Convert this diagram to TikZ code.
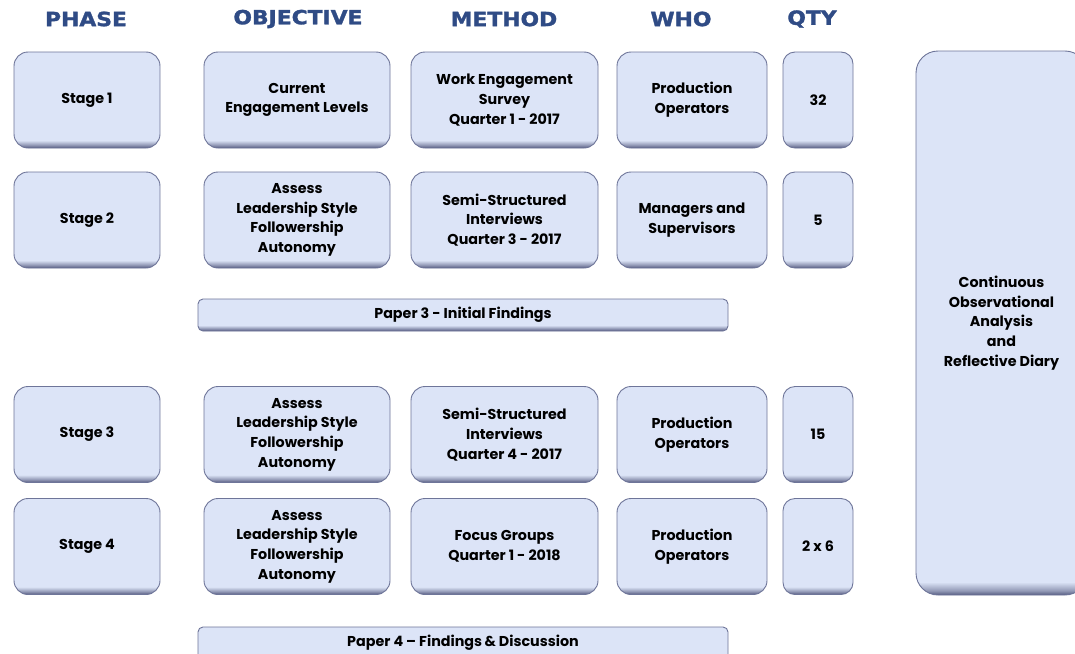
\documentclass[tikz,border=0pt]{standalone}
\usepackage{fontspec}
\setmainfont{Poppins}
\newfontfamily\headfont{DejaVu Sans}[FakeBold=1.6, FakeStretch=1.12]
\definecolor{face}{HTML}{DCE4F7}
\definecolor{edge}{HTML}{555B80}
\definecolor{bord}{HTML}{6E7599}
\definecolor{headblue}{HTML}{2F4B85}
\colorlet{midedge}{edge!55!face}
% bevelled fills: dark band along the lower edge, flat face above
\pgfdeclareverticalshading{cardshade}{100bp}{color(0bp)=(edge); color(25bp)=(edge); color(26.6bp)=(midedge); color(29bp)=(face); color(100bp)=(face)}
\pgfdeclareverticalshading{barshade}{100bp}{color(0bp)=(edge); color(25bp)=(edge); color(29bp)=(midedge); color(34bp)=(face); color(100bp)=(face)}
\pgfdeclareverticalshading{tallshade}{100bp}{color(0bp)=(edge); color(25bp)=(edge); color(25.4bp)=(midedge); color(26.2bp)=(face); color(100bp)=(face)}
\tikzset{
  box/.style={draw=bord, line width=0.9pt, inner sep=0pt, outer sep=0pt,
    align=center, font=\fontsize{14.3}{19.7}\selectfont\bfseries, text=black},
  card/.style={box, shade, shading=cardshade, rounded corners=14pt, minimum height=96pt},
  bar/.style={box, shade, shading=barshade, rounded corners=5pt, minimum height=32pt},
  tall/.style={box, shade, shading=tallshade, rounded corners=22pt},
  head/.style={font=\headfont\fontsize{19.5}{22}\selectfont\bfseries, text=headblue, inner sep=0pt}
}
\begin{document}
\begin{tikzpicture}[x=1pt,y=-1pt]
\clip (0,0) rectangle (1075,653);
\fill[white] (0,0) rectangle (1075,653);

% column headings
\node[head] (hphase) at (86,19) {PHASE};
\node[head] (hobj)   at (298,19) {OBJECTIVE};
\node[head] (hmeth)  at (504,19) {METHOD};
\node[head] (hwho)   at (681,19) {WHO};
\node[head] (hqty)   at (812,19) {QTY};

% stage 1
\node[card, minimum width=146pt] (s1)  at (87,100)    {Stage 1};
\node[card, minimum width=186pt] (o1)  at (297,100)   {Current\\Engagement Levels};
\node[card, minimum width=187pt] (m1)  at (504.5,100) {Work Engagement\\Survey\\Quarter 1 - 2017};
\node[card, minimum width=150pt] (w1)  at (692,100)   {Production\\Operators};
\node[card, minimum width=70pt, rounded corners=12pt] (q1) at (818,100) {32};

% stage 2
\node[card, minimum width=146pt] (s2)  at (87,220)    {Stage 2};
\node[card, minimum width=186pt] (o2)  at (297,220)   {Assess\\Leadership Style\\Followership\\Autonomy};
\node[card, minimum width=187pt] (m2)  at (504.5,220) {Semi-Structured\\Interviews\\Quarter 3 - 2017};
\node[card, minimum width=150pt] (w2)  at (692,220)   {Managers and\\Supervisors};
\node[card, minimum width=70pt, rounded corners=12pt] (q2) at (818,220) {5};

% first paper
\node[bar, minimum width=530pt] (p3) at (463,315) {Paper 3 - Initial Findings};

% stage 3
\node[card, minimum width=146pt] (s3)  at (87,434.5)    {Stage 3};
\node[card, minimum width=186pt] (o3)  at (297,434.5)   {Assess\\Leadership Style\\Followership\\Autonomy};
\node[card, minimum width=187pt] (m3)  at (504.5,434.5) {Semi-Structured\\Interviews\\Quarter 4 - 2017};
\node[card, minimum width=150pt] (w3)  at (692,434.5)   {Production\\Operators};
\node[card, minimum width=70pt, rounded corners=12pt] (q3) at (818,434.5) {15};

% stage 4
\node[card, minimum width=146pt] (s4)  at (87,546.5)    {Stage 4};
\node[card, minimum width=186pt] (o4)  at (297,546.5)   {Assess\\Leadership Style\\Followership\\Autonomy};
\node[card, minimum width=187pt] (m4)  at (504.5,546.5) {Focus Groups\\Quarter 1 - 2018};
\node[card, minimum width=150pt] (w4)  at (692,546.5)   {Production\\Operators};
\node[card, minimum width=70pt, rounded corners=12pt] (q4) at (818,546.5) {2 x 6};

% second paper
\node[bar, minimum width=530pt] (p4) at (463,643) {Paper 4 -- Findings\,\& Discussion};

% ongoing activity spanning all stages
\node[tall, minimum width=171pt, minimum height=544pt] (obs) at (1001.5,323)
  {Continuous\\Observational\\Analysis\\and\\Reflective Diary};
\end{tikzpicture}
\end{document}
